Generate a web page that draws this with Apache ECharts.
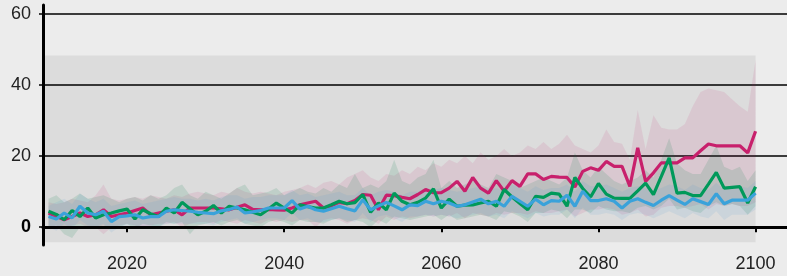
<!DOCTYPE html>
<html>
<head>
<meta charset="utf-8">
<script src="https://cdn.jsdelivr.net/npm/echarts@6/dist/echarts.min.js"></script>
<style>
  html, body { margin: 0; padding: 0; background: #ececec; }
  #chart { width: 787px; height: 276px; }
</style>
</head>
<body>
<div id="chart"></div>
<script>
// yearly values, 2010 .. 2100
const startYear = 2010;

const magenta = [
  4.0, 3.0, 2.1, 3.0, 4.0, 3.0, 3.5, 4.9, 3.0, 3.5,
  4.0, 4.7, 5.4, 3.5, 4.0, 4.5, 4.9, 3.5, 5.4, 5.4,
  5.4, 5.4, 5.2, 4.9, 5.6, 6.3, 5.0, 4.9, 5.0, 4.9,
  4.8, 5.4, 6.3, 6.8, 7.3, 5.4, 6.0, 7.0, 6.6, 7.5,
  9.2, 9.0, 4.9, 9.0, 8.9, 8.4, 8.0, 9.2, 10.6, 9.7,
  9.7, 11.0, 12.9, 10.1, 14.0, 11.0, 9.6, 13.1, 10.1, 13.1,
  11.5, 15.0, 15.0, 13.4, 14.3, 14.1, 14.0, 11.3, 15.7, 16.7,
  16.0, 18.5, 17.1, 17.1, 11.5, 22.3, 12.9, 15.3, 18.1, 18.1,
  18.1, 19.5, 19.5, 21.5, 23.4, 22.9, 22.9, 22.9, 22.9, 20.9, 27.0
];
const magentaLow = [
  0.5, 0, -0.5, 0.5, 1, 0, 0, -2, 0, 0.5,
  1, 0.5, -0.5, 0.5, 1, 1, 1.5, 0, 1, 1.5,
  1.5, 1, 2, 1.5, 1, 2, 1.5, 1, 2, 1.5,
  2, 1.5, 2, 2, 0, 2, 2.5, 2, 1, 2,
  2.5, 2, 1, 3, 2, 3, 2.5, 3, 3.5, 3,
  3.5, 3, 4, 2.5, 4, 3.5, 3, 4, 3.5, 4,
  4, 3.5, 4.5, 4, 4, 4.5, 5, 3, 4, 5,
  5, 5.5, 5, 3.5, 4, 5, 3, 3.5, 5.5, 6,
  6, 5.5, 6, 6.5, 5, 6.5, 6, 6.5, 6, 6, 7
];
const magentaHigh = [
  7, 6.5, 7, 8, 7.5, 7, 9, 12, 8, 7.5,
  8, 8.5, 8, 9, 8.5, 8, 9, 8.5, 9.5, 10,
  9.5, 9, 10, 9.5, 11, 10, 9.5, 10, 9.5, 9,
  10, 10.5, 11, 12, 11, 12.5, 13, 12, 14, 15,
  16, 14, 13, 15, 14.5, 16, 15, 17, 16, 18,
  17, 19, 18, 20, 18, 21, 19, 20, 22, 20,
  21, 23, 22, 24, 22, 23.5, 26, 23, 22, 21,
  23, 27.5, 24, 23.5, 19, 33, 22, 31.5, 28, 27.5,
  27.5, 29, 34, 38, 39, 38.5, 38, 36, 34, 32.5, 47
];

const green = [
  4.5, 3.6, 2.1, 4.7, 3.0, 5.4, 2.6, 3.5, 4.0, 4.6,
  5.1, 2.3, 4.9, 3.8, 3.0, 5.4, 4.0, 7.0, 5.2, 3.5,
  4.5, 6.1, 4.0, 5.9, 5.4, 4.9, 4.2, 3.5, 5.1, 6.8,
  5.4, 4.0, 6.3, 5.8, 5.4, 5.4, 6.3, 7.3, 6.6, 6.9,
  9.2, 4.2, 6.8, 4.9, 9.6, 7.3, 6.3, 7.0, 8.2, 10.8,
  5.4, 7.9, 5.9, 6.2, 6.3, 6.8, 7.3, 5.9, 10.6, 8.5,
  6.7, 4.9, 8.7, 8.4, 9.6, 9.3, 5.9, 14.0, 10.9, 8.5,
  12.3, 9.3, 8.2, 8.1, 8.1, 10.2, 12.4, 9.2, 14.3, 19.5,
  9.6, 9.8, 8.9, 8.9, 12.1, 15.4, 11.0, 11.2, 11.4, 6.8, 11.4
];
const greenLow = [
  0, 0.5, -2, -3, 0, -0.5, 0, 0.5, -0.5, 0,
  1, -0.5, 1, 0.5, 0, 1.5, 1, 1.5, -2, 0.5,
  1, 1.5, 0.5, 1.5, 2, 1, 0.5, 0, 1.5, 2,
  1.5, 0.5, 2, 1.5, 1.5, 1, 2, 2.5, 1.5, 2,
  1.5, 0, 2, 1, 3, 2.5, 2, 2.5, 3, 3.5,
  2, 3.5, 2, 2.5, 3, 3.5, 3, 2, 4.5, 4,
  3, 1.5, 4, 4, 5, 4.5, 2.5, 5, 5, 4,
  6, 5, 4.5, 4.5, 4, 5.5, 6, 5, 6, 8,
  5, 5.5, 4.5, 4, 6, 7, 6, 6.5, 6, 3.5, 6
];
const greenHigh = [
  8, 9, 7, 8, 9.5, 8, 8.5, 9, 8, 7,
  8, 8.5, 7.5, 9, 8, 9, 11, 12, 9, 8,
  10, 9, 8, 9.5, 11, 12, 9, 9.5, 10, 11,
  9, 10, 11, 10, 9.5, 11, 10, 12, 11, 15,
  11, 12, 11, 13, 19, 13, 12, 14, 15, 19,
  11, 13, 11, 12, 13, 12, 11, 15, 14, 13,
  11, 12, 13, 14, 13, 12, 14, 21, 16, 14,
  17, 15, 13, 12, 13, 14, 16, 14, 19, 25,
  18, 16, 15, 15, 19, 23, 17, 16, 17, 13, 16
];

const blue = [
  3.0, 2.3, 4.0, 2.6, 5.9, 4.0, 3.5, 4.5, 1.6, 3.0,
  3.2, 3.5, 2.6, 3.0, 3.0, 4.5, 4.9, 4.7, 4.5, 4.2,
  4.0, 3.8, 4.6, 5.0, 5.7, 4.0, 4.3, 4.7, 5.4, 5.4,
  5.4, 7.5, 5.1, 5.9, 4.9, 4.5, 5.2, 5.9, 5.2, 4.6,
  7.7, 4.9, 6.0, 7.0, 6.0, 4.9, 6.3, 6.1, 7.3, 6.6,
  7.3, 6.8, 5.9, 6.3, 7.1, 7.9, 6.6, 7.3, 5.9, 8.7,
  7.3, 5.9, 7.9, 6.3, 7.5, 7.3, 9.0, 5.9, 10.1, 7.5,
  7.5, 8.0, 7.3, 5.4, 7.3, 8.0, 7.0, 6.1, 7.6, 8.9,
  7.6, 6.4, 8.0, 7.2, 6.4, 9.4, 6.6, 7.6, 7.6, 7.6, 9.6
];
const blueLow = [
  0, -1, 1, -0.5, 2, 0.5, 0, 1, -1.5, 0,
  0.5, 0.5, -0.5, 0, 0, 1, 1, 1, 1, 1,
  1, 0.5, 1.5, 2, 2.5, 1, 1.5, 2, 2.5, 2.5,
  2, 4, 2, 2.5, 1.5, 1.5, 2, 2.5, 2, 1.5,
  4, 1.5, 3, 3.5, 2.5, 1.5, 3, 3, 3.5, 3,
  3.5, 3, 2.5, 3, 3.5, 4, 3, 3.5, 2.5, 4.5,
  3.5, 2.5, 4, 3, 3.5, 3.5, 5, 2.5, 5.5, 3.5,
  3.5, 4, 3.5, 2, 3.5, 4, 3.5, 2.5, 3.5, 4.5,
  3.5, 2.5, 4, 3, 2.5, 4.5, 2, 3.5, 3.5, 3.5, 5
];
const blueHigh = [
  6, 7, 8, 6.5, 9.5, 8, 7, 8, 6, 6.5,
  7, 7.5, 6.5, 7, 7.5, 8, 8.5, 8, 8, 7.5,
  8, 7.5, 8.5, 9, 9, 8, 8.5, 8.5, 9, 9,
  9, 10.5, 9, 9.5, 8.5, 9, 9.5, 10, 9, 9,
  11, 9, 10, 10.5, 10, 9, 10, 10, 11, 10.5,
  11, 10.5, 10, 10.5, 11, 11.5, 10.5, 11, 10, 12,
  11, 10, 11.5, 10.5, 11, 11, 12, 10, 13, 11.5,
  11.5, 12, 11, 10, 11, 11.5, 11, 10.5, 11, 12,
  11.5, 10.5, 12, 11, 10.5, 12.5, 10.5, 11.5, 11.5, 11, 13
];

const xTicks = [2020, 2040, 2060, 2080, 2100];
const yTicks = [0, 20, 40, 60];

// shaded reference box behind the data
const shadeYears = [2009.3, 2100];
const shadeValues = [-4.2, 48.3];

const years = magenta.map((_, i) => startYear + i);

const chart = echarts.init(document.getElementById('chart'));

const toPairs = (arr) => arr.map((v, i) => [years[i], v]);

// uncertainty band: one polygon, upper edge forward then lower edge back
const bandSeries = (name, low, high, color) => ({
  name: name + '-band',
  type: 'custom',
  silent: true,
  z: 2,
  data: [[years[0], low[0]]],
  renderItem: (params, api) => {
    const points = [];
    high.forEach((v, i) => points.push(api.coord([years[i], v])));
    for (let i = low.length - 1; i >= 0; i--) {
      points.push(api.coord([years[i], low[i]]));
    }
    return {
      type: 'polygon',
      shape: { points: points },
      style: { fill: color },
    };
  },
});

const lineSeries = (name, values, color) => ({
  name: name,
  type: 'line',
  data: toPairs(values),
  showSymbol: false,
  silent: true,
  lineStyle: { color: color, width: 3.2 },
  z: 3,
});

const labelFont = {
  fontFamily: 'Liberation Sans, Arial, sans-serif',
  fontSize: 18,
  color: '#222',
};

const option = {
  backgroundColor: '#ececec',
  animation: false,
  grid: { left: 43, right: 0, top: 5, bottom: 31 },
  xAxis: {
    type: 'value',
    min: shadeYears[0],
    max: 2104,
    z: 4,
    axisLine: { lineStyle: { color: '#000', width: 3 } },
    axisTick: { customValues: xTicks, length: 5, lineStyle: { color: '#000', width: 2 } },
    axisLabel: { customValues: xTicks, margin: 10, ...labelFont, formatter: (v) => String(v) },
    splitLine: { show: false },
  },
  yAxis: {
    type: 'value',
    min: -5,
    max: 62.5,
    z: 4,
    axisLine: { show: true, lineStyle: { color: '#000', width: 3 } },
    axisTick: { show: true, customValues: yTicks, length: 4, lineStyle: { color: '#000', width: 1.5 } },
    axisLabel: {
      customValues: yTicks,
      margin: 12,
      ...labelFont,
      formatter: (v) => (v === 0 ? '{zero|0}' : String(v)),
      rich: {
        zero: { fontFamily: 'Liberation Sans, Arial, sans-serif', fontSize: 18, fontWeight: 'bold', color: '#000' },
      },
    },
    splitLine: { show: false },
  },
  series: [
    {
      name: 'shade',
      type: 'line',
      data: [],
      silent: true,
      z: 0,
      markArea: {
        silent: true,
        z: 0,
        itemStyle: { color: '#dcdcdc' },
        data: [[
          { xAxis: shadeYears[0], yAxis: shadeValues[0] },
          { xAxis: shadeYears[1], yAxis: shadeValues[1] },
        ]],
      },
    },
    {
      name: 'grid',
      type: 'line',
      data: [],
      silent: true,
      z: 1,
      markLine: {
        silent: true,
        z: 1,
        symbol: 'none',
        label: { show: false },
        data: yTicks.map((v) => ({
          yAxis: v,
          lineStyle: { color: '#000', width: v === 0 ? 2.8 : 1.5, type: 'solid' },
        })),
      },
    },
    bandSeries('magenta', magentaLow, magentaHigh, 'rgba(200,30,110,0.10)'),
    bandSeries('green', greenLow, greenHigh, 'rgba(0,120,70,0.13)'),
    bandSeries('blue', blueLow, blueHigh, 'rgba(60,150,220,0.10)'),
    lineSeries('magenta', magenta, '#c8206c'),
    lineSeries('green', green, '#00995a'),
    lineSeries('blue', blue, '#3aa2da'),
  ],
};

chart.setOption(option);
</script>
</body>
</html>
